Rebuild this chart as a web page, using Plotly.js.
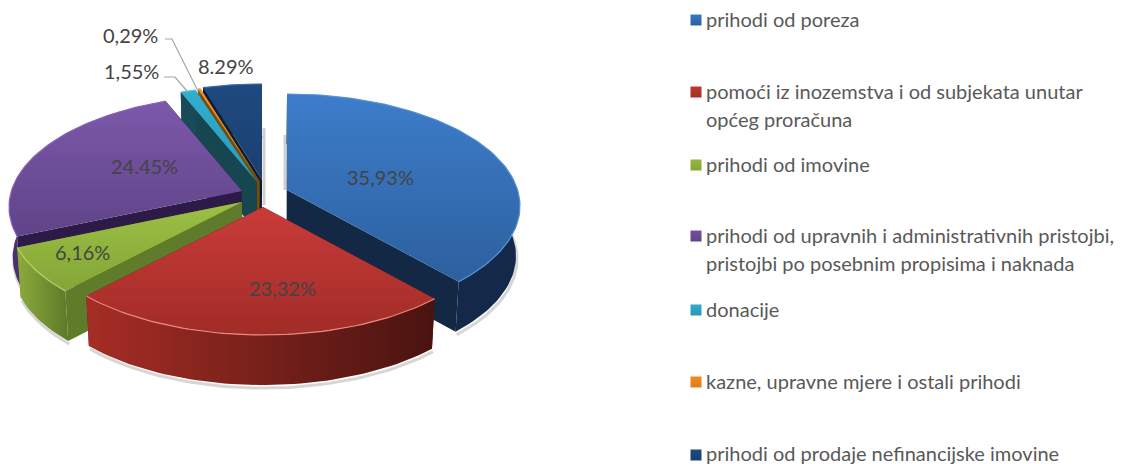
<!DOCTYPE html>
<html><head><meta charset="utf-8">
<script src="https://cdn.plot.ly/plotly-3.0.1.min.js"></script>
<style>html,body{margin:0;padding:0;background:#fff}#c{width:1139px;height:464px}</style></head>
<body><div id="c"></div>
<script>
const categories = ['prihodi od poreza','pomoći iz inozemstva i od subjekata unutar\nopćeg proračuna','prihodi od imovine','prihodi od upravnih i administrativnih pristojbi,\npristojbi po posebnim propisima i naknada','donacije','kazne, upravne mjere i ostali prihodi','prihodi od prodaje nefinancijske imovine'];
const values = [35.93,23.32,6.16,24.45,1.55,0.29,8.29];
const valueLabels = ['35,93%','23,32%','6,16%','24.45%','1,55%','0,29%','8.29%'];
const seriesColors = ['#3a78c2','#c0392f','#95b83f','#7450a0','#31a8c9','#f08a1d','#1f4a80'];

// style and layout of the drawing
const topGrad = [['#3d7dca','#2c609f'],['#c93b39','#a12c27'],['#9cc043','#83a638'],['#7c58aa','#5f4488'],['#33aed0','#2b98b8'],['#f59224','#e07f15'],['#1f4a80','#1a3f6e']];
const wallGrad = [['#14294a','#14294a'],['#a62d25','#4a1310'],['#8cab3c','#5c7a2a'],['#4b3270','#3a2658'],['#1a4a58','#1a4a58'],['#8a5a10','#8a5a10'],['#0d1f38','#0d1f38']];
const cutWall = ['#122845','#5a1512','#5f7c2b','#2e1a47','#16464f','#7a4c0c','#0a1a30'];
const apex = [[287,190],[263,207],[242,202],[242,191],[257,182],[259.5,181],[262,180]];
const rimLight = ['#5b93d6','#e88a80','#b8d468','#8a68b8','#60c4dd','#f8b060','#3a6aa8'];
const drawOrder = [6,5,4,3,0,2,1];
const labelPos = [[380,177],[282,288],[82,252],[144,166],[131,71],[130,35],[226,66]];
const legendY = [20,92,165,236,310,382,455];
const leaders = [{i:4,pts:[[164,77],[175,77],[187,91]]},{i:5,pts:[[165,39],[172,39],[198,91]]}];
const shadowStrips = [[[264,128],[264,205]],[[285,135],[285,190]]];

const A=109.7, K=0.143, B=230.6, DEPTH=50, PIE_X=255, SHRINK=0.985;
const warpIn  = [0,130,213,236,324,330,360];
const warpOut = [0,139,223,247.5,338.5,343,360];
function warp(t){
  for(let i=1;i<warpIn.length;i++) if(t<=warpIn[i]){
    const f=(t-warpIn[i-1])/(warpIn[i]-warpIn[i-1]);
    return warpOut[i-1]+f*(warpOut[i]-warpOut[i-1]);
  }
  return t;
}
function rim(t,ax){
  const p=warp(t)*Math.PI/180,u=Math.sin(p),v=Math.cos(p),d=1+K*v;
  return [ax[0]+B*u/d, ax[1]-A*v/d];
}
function low(p){return [PIE_X+(p[0]-PIE_X)*SHRINK,p[1]+DEPTH];}
function arc(t0,t1,ax){
  const n=Math.max(4,Math.ceil((t1-t0)/1.5)),r=[];
  for(let i=0;i<=n;i++) r.push(rim(t0+(t1-t0)*i/n,ax));
  return r;
}
const traces=[];
function poly(pts,fill,grad){
  const t={type:'scatter',mode:'lines',x:pts.map(p=>p[0]),y:pts.map(p=>p[1]),fill:'toself',line:{width:0,color:fill},hoverinfo:'skip',showlegend:false,fillcolor:fill};
  if(grad) t.fillgradient=grad;
  traces.push(t);
}
function stroke(pts,color,width){
  traces.push({type:'scatter',mode:'lines',x:pts.map(p=>p[0]),y:pts.map(p=>p[1]),line:{color:color,width:width},hoverinfo:'skip',showlegend:false});
}
shadowStrips.forEach(s=>stroke(s,'rgba(150,150,150,0.45)',3));
const total=values.reduce((a,b)=>a+b,0);
const starts=[];let acc=0;
values.forEach(v=>{starts.push(acc/total*360);acc+=v;});
drawOrder.forEach(i=>{
  const t0=starts[i],t1=t0+values[i]/total*360,ax=apex[i];
  const a=arc(t0,t1,ax),lowArc=a.map(low);
  stroke(lowArc.map(p=>[p[0]+1,p[1]+3]),'rgba(120,120,120,0.30)',3);
  const ax2=low(ax);
  const s=a[0],e=a[a.length-1];
  poly([ax,s,low(s),ax2,ax],cutWall[i]);
  poly([ax,e,low(e),ax2,ax],cutWall[i]);
  poly(a.concat(lowArc.slice().reverse()).concat([a[0]]),wallGrad[i][0],
    {type:'horizontal',colorscale:[[0,wallGrad[i][0]],[1,wallGrad[i][1]]]});
  poly([ax].concat(a).concat([ax]),topGrad[i][0],
    {type:'vertical',colorscale:[[0,topGrad[i][1]],[1,topGrad[i][0]]]});
  stroke(a,rimLight[i],1.2);
});
leaders.forEach(l=>stroke(l.pts,'#a6a6a6',1.2));
traces.push({type:'scatter',mode:'markers',x:legendY.map(()=>696),y:legendY,hoverinfo:'skip',showlegend:false,
  marker:{symbol:'square',size:11,color:seriesColors,line:{width:0},gradient:{type:'vertical',color:topGrad.map(g=>g[1])}}});

const annotations=[];
valueLabels.forEach((s,i)=>annotations.push({x:labelPos[i][0],y:labelPos[i][1],xref:'x',yref:'y',text:s,showarrow:false,xanchor:'center',yanchor:'middle',font:{family:'Lato, Open Sans, sans-serif',size:20,color:'#444444'}}));
categories.forEach((c,i)=>c.split('\n').forEach((ln,j)=>annotations.push({x:704,y:legendY[i]-1+j*27.5-(i===6?1:0),xref:'x',yref:'y',text:ln,showarrow:false,xanchor:'left',yanchor:'middle',font:{family:'Lato, Open Sans, sans-serif',size:20,color:'#595959'}})));

Plotly.newPlot('c',traces,{
  width:1139,height:464,margin:{l:0,r:0,t:0,b:0},paper_bgcolor:'#fff',plot_bgcolor:'#fff',showlegend:false,
  xaxis:{range:[0,1139],visible:false,fixedrange:true},
  yaxis:{range:[464,0],visible:false,fixedrange:true},
  annotations:annotations,hovermode:false
},{displayModeBar:false,staticPlot:true});
</script></body></html>
